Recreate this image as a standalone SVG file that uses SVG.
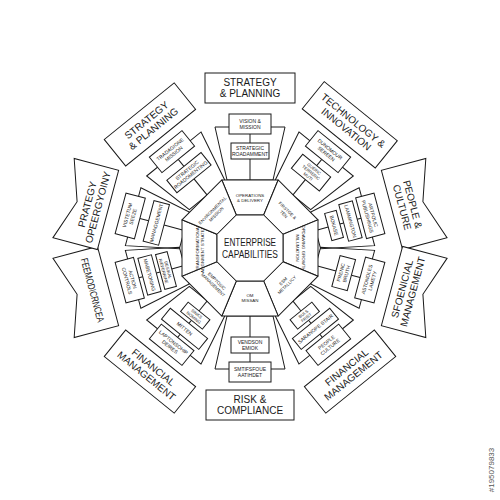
<svg xmlns="http://www.w3.org/2000/svg" width="500" height="500" viewBox="0 0 500 500">
<style>
.f{fill:#fff;stroke:#1a1a1a;stroke-width:1}
.o{fill:none;stroke:#1a1a1a;stroke-width:1}
.c{stroke:#1a1a1a;stroke-width:1;fill:none}
text{font-family:"Liberation Sans",Arial,sans-serif;fill:#1a1a1a;text-anchor:middle}
.L{font-size:10px}
.s{font-size:5px}
.x{font-size:4.2px}
.i{font-size:4.4px}
.w{font-size:8px;fill:#555}
</style>
<rect width="500" height="500" fill="#fff"/>

<g id="connectors">
<g transform="rotate(0 250 248)"><line class="c" x1="250" y1="134" x2="250" y2="143"/><line class="c" x1="250" y1="159" x2="250" y2="180"/></g>
<g transform="rotate(39 250 248)"><line class="c" x1="250" y1="134" x2="250" y2="143"/><line class="c" x1="250" y1="159" x2="250" y2="180"/></g>
<g transform="rotate(75 250 248)"><line class="c" x1="250" y1="133" x2="250" y2="137"/><line class="c" x1="250" y1="151" x2="250" y2="155"/><line class="c" x1="250" y1="167" x2="250" y2="180"/></g>
<g transform="rotate(105 250 248)"><line class="c" x1="250" y1="134" x2="250" y2="143"/><line class="c" x1="250" y1="159" x2="250" y2="180"/></g>
<g transform="rotate(141 250 248)"><line class="c" x1="250" y1="133" x2="250" y2="137"/><line class="c" x1="250" y1="151" x2="250" y2="155"/><line class="c" x1="250" y1="167" x2="250" y2="180"/></g>
<g transform="rotate(180 250 248)"><line class="c" x1="250" y1="134" x2="250" y2="143"/><line class="c" x1="250" y1="159" x2="250" y2="180"/></g>
<g transform="rotate(-141 250 248)"><line class="c" x1="250" y1="133" x2="250" y2="137"/><line class="c" x1="250" y1="151" x2="250" y2="155"/><line class="c" x1="250" y1="167" x2="250" y2="180"/></g>
<g transform="rotate(-105 250 248)"><line class="c" x1="250" y1="133" x2="250" y2="137"/><line class="c" x1="250" y1="151" x2="250" y2="155"/><line class="c" x1="250" y1="167" x2="250" y2="180"/></g>
<g transform="rotate(-75 250 248)"><line class="c" x1="250" y1="134" x2="250" y2="143"/><line class="c" x1="250" y1="159" x2="250" y2="180"/></g>
<g transform="rotate(-39 250 248)"><line class="c" x1="250" y1="134" x2="250" y2="143"/><line class="c" x1="250" y1="159" x2="250" y2="180"/></g>
</g>

<!-- middle sectors -->
<g id="sector-0" transform="rotate(0 250 248)">
<polygon class="o" points="215,127 285,127 273,180 227,180"/>
<rect class="f" x="229" y="114" width="42" height="20"/>
<text class="s"><tspan x="250" y="122.8">VISION &amp;</tspan><tspan x="250" y="128.6">MISSION</tspan></text>
<rect class="f" x="231" y="143" width="38" height="16"/>
<text class="s"><tspan x="250" y="149.8">STRATEGIC</tspan><tspan x="250" y="155.6">ROADAMMENT</tspan></text>
</g>
<g id="sector-39" transform="rotate(39 250 248)">
<polygon class="o" points="215,127 285,127 273,180 227,180"/>
<rect class="f" x="229" y="114" width="42" height="20"/>
<text class="s"><tspan x="250" y="122.8">DUNOMOUR</tspan><tspan x="250" y="128.6">SEREEN</tspan></text>
<rect class="f" x="232" y="142" width="36" height="18"/>
<text class="x"><tspan x="250" y="147.7">GUERIC</tspan><tspan x="250" y="152.5">TERRERIC</tspan><tspan x="250" y="157.3">MUTI</tspan></text>
</g>
<g id="sector-75" transform="rotate(75 250 248)">
<polygon class="o" points="220,127 280,127 269,180 231,180"/>
<rect class="f" x="229" y="114" width="42" height="19"/>
<text class="s"><tspan x="250" y="122.3">ARTFOLIC</tspan><tspan x="250" y="128.1">PUBLISHINGS</tspan></text>
<rect class="f" x="231" y="137" width="38" height="14"/>
<text class="s" x="250" y="145.8">LAMMINGTON</text>
<rect class="f" x="236" y="155" width="28" height="12"/>
<text class="s" x="250" y="162.8">BOKASE</text>
</g>
<g id="sector-105" transform="rotate(105 250 248)">
<polygon class="o" points="220,127 280,127 269,180 231,180"/>
<rect class="f" x="229" y="114" width="42" height="20"/>
<g transform="rotate(180 250 124)"><text class="s"><tspan x="250" y="122.8">ASTONOLES</tspan><tspan x="250" y="128.6">LAMETY</tspan></text></g>
<rect class="f" x="234" y="143" width="32" height="16"/>
<g transform="rotate(180 250 151)"><text class="s"><tspan x="250" y="149.8">PRENIC</tspan><tspan x="250" y="155.6">BRUTH</tspan></text></g>
</g>
<g id="sector-141" transform="rotate(141 250 248)">
<polygon class="o" points="215,127 285,127 273,180 227,180"/>
<rect class="f" x="229" y="114" width="42" height="19"/>
<g transform="rotate(180 250 123.5)"><text class="s"><tspan x="250" y="122.3">PEOPLE</tspan><tspan x="250" y="128.1">CULTURE</tspan></text></g>
<rect class="f" x="226" y="137" width="48" height="14"/>
<g transform="rotate(180 250 144)"><text class="s" x="250" y="145.8">SARANOPE STAIR</text></g>
<rect class="f" x="236" y="155" width="28" height="12"/>
<g transform="rotate(180 250 161)"><text class="x"><tspan x="250" y="160.3">BULS</tspan><tspan x="250" y="165">FRIST</tspan></text></g>
</g>
<g id="sector-180" transform="rotate(180 250 248)">
<polygon class="o" points="215,127 285,127 273,180 227,180"/>
<rect class="f" x="229" y="114" width="42" height="20"/>
<g transform="rotate(180 250 124)"><text class="s"><tspan x="250" y="122.8">SMTIFSFOUE</tspan><tspan x="250" y="128.6">AATIHDET</tspan></text></g>
<rect class="f" x="231" y="143" width="38" height="16"/>
<g transform="rotate(180 250 151)"><text class="s"><tspan x="250" y="149.8">VENDSON</tspan><tspan x="250" y="155.6">EMIOK</tspan></text></g>
</g>
<g id="sector-219" transform="rotate(-141 250 248)">
<polygon class="o" points="215,127 285,127 273,180 227,180"/>
<rect class="f" x="229" y="114" width="42" height="19"/>
<g transform="rotate(180 250 123.5)"><text class="s"><tspan x="250" y="122.3">LAPTONSOHIP</tspan><tspan x="250" y="128.1">DEIRES</tspan></text></g>
<rect class="f" x="226" y="137" width="48" height="14"/>
<g transform="rotate(180 250 144)"><text class="s" x="250" y="145.8">MITTEN</text></g>
<rect class="f" x="236" y="155" width="28" height="12"/>
<g transform="rotate(180 250 161)"><text class="x"><tspan x="250" y="160.3">SINKS</tspan><tspan x="250" y="165">NOMING</tspan></text></g>
</g>
<g id="sector-255" transform="rotate(-105 250 248)">
<polygon class="o" points="220,127 280,127 269,180 231,180"/>
<rect class="f" x="229" y="114" width="42" height="19"/>
<g transform="rotate(180 250 123.5)"><text class="s"><tspan x="250" y="122.3">ACTION</tspan><tspan x="250" y="128.1">CONTROLS</tspan></text></g>
<rect class="f" x="231" y="137" width="38" height="14"/>
<g transform="rotate(180 250 144)"><text class="s" x="250" y="145.8">MABETONING</text></g>
<rect class="f" x="232" y="155" width="36" height="12"/>
<g transform="rotate(180 250 161)"><text class="x"><tspan x="250" y="160.3">DESINAL</tspan><tspan x="250" y="165">RIEFERRINE</tspan></text></g>
</g>
<g id="sector-285" transform="rotate(-75 250 248)">
<polygon class="o" points="220,127 280,127 269,180 231,180"/>
<rect class="f" x="229" y="114" width="42" height="20"/>
<text class="s"><tspan x="250" y="122.8">VISTETUM</tspan><tspan x="250" y="128.6">SEEZE</tspan></text>
<rect class="f" x="229" y="143" width="42" height="16"/>
<text class="s" x="250" y="152.8">MANAGGEMENT</text>
</g>
<g id="sector-321" transform="rotate(-39 250 248)">
<polygon class="o" points="215,127 285,127 273,180 227,180"/>
<rect class="f" x="229" y="114" width="42" height="20"/>
<text class="s"><tspan x="250" y="122.8">TRADAGIONE</tspan><tspan x="250" y="128.6">MISSION</tspan></text>
<rect class="f" x="228" y="143" width="44" height="16"/>
<text class="s"><tspan x="250" y="149.8">STRATEGIC</tspan><tspan x="250" y="155.6">ROADOMENTING</tspan></text>
</g>

<!-- inner ring -->
<g id="ring-0" transform="rotate(0 250 248)"><polygon class="f" points="236.33,215 263.67,215 278.17,180 221.83,180"/><text class="i"><tspan x="250" y="196.5">OPERATIONS</tspan><tspan x="250" y="201.8">&amp; DELIVERY</tspan></text></g>
<g id="ring-45" transform="rotate(45 250 248)"><polygon class="f" points="236.33,215 263.67,215 278.17,180 221.83,180"/><text class="i"><tspan x="250" y="196.5">FIRSTGE &amp;</tspan><tspan x="250" y="201.8">TEN</tspan></text></g>
<g id="ring-90" transform="rotate(90 250 248)"><polygon class="f" points="236.33,215 263.67,215 278.17,180 221.83,180"/><text class="i"><tspan x="250" y="196.5">OPDAWING GROWTH</tspan><tspan x="250" y="201.8">MILUMATION</tspan></text></g>
<g id="ring-135" transform="rotate(135 250 248)"><polygon class="f" points="236.33,215 263.67,215 278.17,180 221.83,180"/><g transform="rotate(180 250 198)"><text class="i"><tspan x="250" y="196.5">ESM</tspan><tspan x="250" y="201.8">METALLICY</tspan></text></g></g>
<g id="ring-180" transform="rotate(180 250 248)"><polygon class="f" points="236.33,215 263.67,215 278.17,180 221.83,180"/><g transform="rotate(180 250 198)"><text class="i"><tspan x="250" y="196.5">OM</tspan><tspan x="250" y="201.8">MISSAN</tspan></text></g></g>
<g id="ring-225" transform="rotate(-135 250 248)"><polygon class="f" points="236.33,215 263.67,215 278.17,180 221.83,180"/><g transform="rotate(180 250 198)"><text class="i"><tspan x="250" y="196.5">EMPTOSIC</tspan><tspan x="250" y="201.8">MANAGEMENT</tspan></text></g></g>
<g id="ring-270" transform="rotate(-90 250 248)"><polygon class="f" points="236.33,215 263.67,215 278.17,180 221.83,180"/><text class="i"><tspan x="250" y="196.5">TRANSFORMATIONAL</tspan><tspan x="250" y="201.8">ALIGNMENT STRATEGY</tspan></text></g>
<g id="ring-315" transform="rotate(-45 250 248)"><polygon class="f" points="236.33,215 263.67,215 278.17,180 221.83,180"/><text class="i"><tspan x="250" y="196.5">ENVIRONMENTAL</tspan><tspan x="250" y="201.8">MISSION</tspan></text></g>

<g id="center">
<polygon class="f" points="236.33,215 263.67,215 283,234.33 283,261.67 263.67,281 236.33,281 217,261.67 217,234.33"/>
<text class="L" x="250" y="246" textLength="52" lengthAdjust="spacingAndGlyphs">ENTERPRISE</text>
<text class="L" x="250" y="258" textLength="56" lengthAdjust="spacingAndGlyphs">CAPABILITIES</text>
</g>

<!-- outer labels -->
<g id="label-0" transform="rotate(0 250 248)">
<rect class="f" x="205" y="73" width="90" height="30"/>
<text class="L"><tspan x="250" y="86">STRATEGY</tspan><tspan x="250" y="97">&amp; PLANNING</tspan></text>
</g>
<g id="label-39" transform="rotate(39 250 248)">
<rect class="f" x="203" y="72" width="94" height="35"/>
<text class="L"><tspan x="250" y="87.5">TECHNOLOGY &amp;</tspan><tspan x="250" y="98.5">INNOVATION</tspan></text>
</g>
<g id="label-75" transform="rotate(75 250 248)">
<polygon class="f" points="209,55 250,69 291,55 291,101 209,101"/>
<text class="L"><tspan x="250" y="83">PEOPLE &amp;</tspan><tspan x="250" y="94">CULTURE</tspan></text>
</g>
<g id="label-105" transform="rotate(105 250 248)">
<polygon class="f" points="209,55 250,69 291,55 291,101 209,101"/>
<g transform="rotate(180 250 85)"><text class="L"><tspan x="250" y="83">SFOENICIAL</tspan><tspan x="250" y="94">MANAGEMENT</tspan></text></g>
</g>
<g id="label-141" transform="rotate(141 250 248)">
<rect class="f" x="205" y="72" width="90" height="34"/>
<g transform="rotate(180 250 89)"><text class="L"><tspan x="250" y="87">FINANCIAL</tspan><tspan x="250" y="98">MANAGEMENT</tspan></text></g>
</g>
<g id="label-180" transform="rotate(180 250 248)">
<rect class="f" x="206" y="76" width="88" height="30"/>
<g transform="rotate(180 250 91)"><text class="L"><tspan x="250" y="89">RISK &amp;</tspan><tspan x="250" y="100">COMPLIANCE</tspan></text></g>
</g>
<g id="label-219" transform="rotate(-141 250 248)">
<rect class="f" x="205" y="72" width="90" height="34"/>
<g transform="rotate(180 250 89)"><text class="L"><tspan x="250" y="87">FINANCIAL</tspan><tspan x="250" y="98">MANAGEMENT</tspan></text></g>
</g>
<g id="label-255" transform="rotate(-105 250 248)">
<polygon class="f" points="209,55 250,69 291,55 291,101 209,101"/>
<g transform="rotate(180 250 85)"><text class="L" x="250" y="88.5" textLength="66" lengthAdjust="spacingAndGlyphs">FEEMODICRNCEA</text></g>
</g>
<g id="label-285" transform="rotate(-75 250 248)">
<polygon class="f" points="209,55 250,69 291,55 291,101 209,101"/>
<text class="L"><tspan x="250" y="83">PRATEGY</tspan><tspan x="250" y="94">OPEERGYOINY</tspan></text>
</g>
<g id="label-321" transform="rotate(-39 250 248)">
<rect class="f" x="205" y="72" width="90" height="34"/>
<text class="L"><tspan x="250" y="87">STRATEGY</tspan><tspan x="250" y="98">&amp; PLANNING</tspan></text>
</g>

<text class="w" transform="translate(494,470) rotate(-90)" text-anchor="start">#195079833</text>
</svg>
